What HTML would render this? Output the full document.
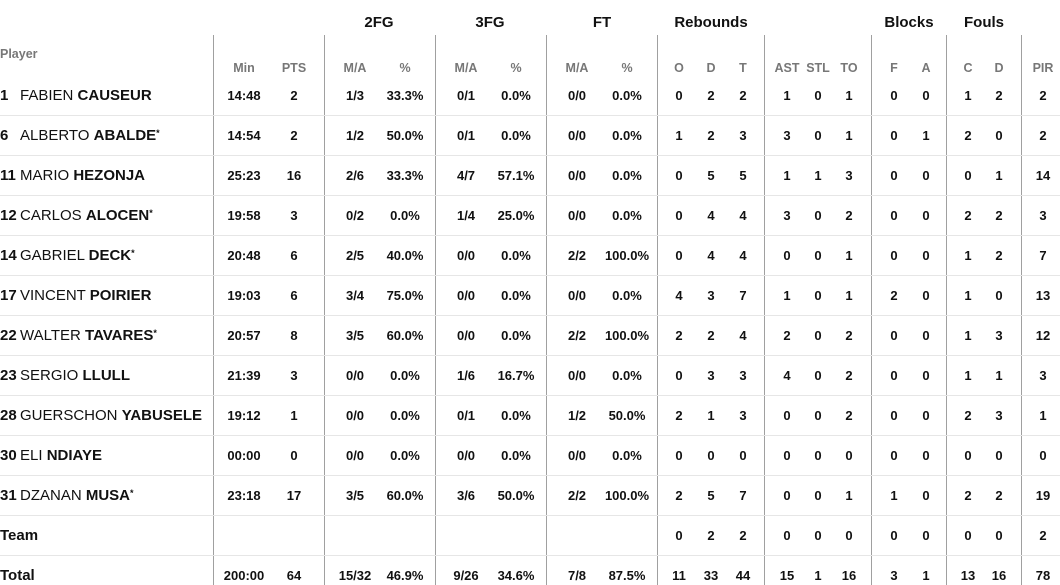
<!DOCTYPE html>
<html><head><meta charset="utf-8"><style>
body{margin:0;width:1060px;height:585px;background:#fff;font-family:"Liberation Sans",sans-serif;position:relative;overflow:hidden;color:#111}
.a{position:absolute;white-space:nowrap}
.c{transform:translateX(-50%)}
.v{position:absolute;top:35px;height:550px;width:1px;background:#a0a0a0}
.h{position:absolute;left:0;width:1060px;height:1px;background:#e6e6e6}
.g{font-weight:bold;font-size:15px;top:13px}
.s{font-weight:bold;font-size:12.5px;color:#777;top:60px}
.n{font-weight:bold;font-size:13px}
.nm{font-size:15px}
</style></head><body>
<div id="r"></div>
<script>
var o='';
function t(x,y,s,cl,c){o+='<div class="a '+(c?'c ':'')+cl+'" style="left:'+x+'px;top:'+y+'px">'+s+'</div>';}
[213,324,435,546,657,764,871,946,1021].forEach(function(x){o+='<div class="v" style="left:'+x+'px"></div>';});
for(var k=0;k<12;k++)o+='<div class="h" style="top:'+(115+40*k)+'px"></div>';
[['2FG',379],['3FG',490],['FT',602],['Rebounds',711],['Blocks',909],['Fouls',984]].forEach(function(g){t(g[1],14,g[0],'g',1);});
t(0,47,'Player','s',0);
var cx=[244,294,355,405,466,516,577,627,679,711,743,787,818,849,894,926,968,999,1043];
['Min','PTS','M/A','%','M/A','%','M/A','%','O','D','T','AST','STL','TO','F','A','C','D','PIR'].forEach(function(s,i){t(cx[i],61,s,'s',1);});
var R=[
['1','FABIEN','CAUSEUR','','14:48 2 1/3 33.3% 0/1 0.0% 0/0 0.0% 0 2 2 1 0 1 0 0 1 2 2'],
['6','ALBERTO','ABALDE','*','14:54 2 1/2 50.0% 0/1 0.0% 0/0 0.0% 1 2 3 3 0 1 0 1 2 0 2'],
['11','MARIO','HEZONJA','','25:23 16 2/6 33.3% 4/7 57.1% 0/0 0.0% 0 5 5 1 1 3 0 0 0 1 14'],
['12','CARLOS','ALOCEN','*','19:58 3 0/2 0.0% 1/4 25.0% 0/0 0.0% 0 4 4 3 0 2 0 0 2 2 3'],
['14','GABRIEL','DECK','*','20:48 6 2/5 40.0% 0/0 0.0% 2/2 100.0% 0 4 4 0 0 1 0 0 1 2 7'],
['17','VINCENT','POIRIER','','19:03 6 3/4 75.0% 0/0 0.0% 0/0 0.0% 4 3 7 1 0 1 2 0 1 0 13'],
['22','WALTER','TAVARES','*','20:57 8 3/5 60.0% 0/0 0.0% 2/2 100.0% 2 2 4 2 0 2 0 0 1 3 12'],
['23','SERGIO','LLULL','','21:39 3 0/0 0.0% 1/6 16.7% 0/0 0.0% 0 3 3 4 0 2 0 0 1 1 3'],
['28','GUERSCHON','YABUSELE','','19:12 1 0/0 0.0% 0/1 0.0% 1/2 50.0% 2 1 3 0 0 2 0 0 2 3 1'],
['30','ELI','NDIAYE','','00:00 0 0/0 0.0% 0/0 0.0% 0/0 0.0% 0 0 0 0 0 0 0 0 0 0 0'],
['31','DZANAN','MUSA','*','23:18 17 3/5 60.0% 3/6 50.0% 2/2 100.0% 2 5 7 0 0 1 1 0 2 2 19']];
R.forEach(function(r,i){var y=95+40*i;
t(0,y-8,'<b>'+r[0]+'</b>','nm',0);
t(20,y-8,r[1]+' <b>'+r[2]+'</b>'+(r[3]?'<b style="font-size:9px;vertical-align:4px">*</b>':''),'nm',0);
r[4].split(' ').forEach(function(v,j){t(cx[j],y-7,v,'n',1);});});
t(0,527,'<b>Team</b>','nm',0);
'0 2 2 0 0 0 0 0 0 0 2'.split(' ').forEach(function(v,j){t(cx[j+8],528,v,'n',1);});
t(0,567,'<b>Total</b>','nm',0);
'200:00 64 15/32 46.9% 9/26 34.6% 7/8 87.5% 11 33 44 15 1 16 3 1 13 16 78'.split(' ').forEach(function(v,j){t(cx[j],568,v,'n',1);});
document.getElementById('r').innerHTML=o;
</script>
</body></html>
